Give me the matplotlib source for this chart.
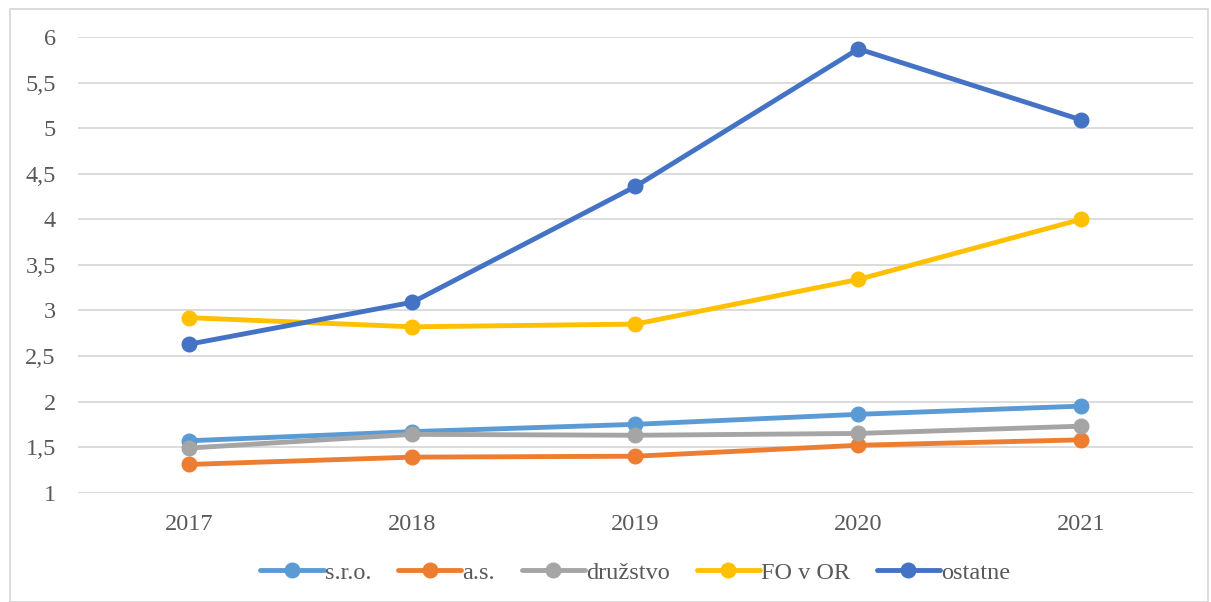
import matplotlib.pyplot as plt
from matplotlib.patches import Rectangle

years = ['2017', '2018', '2019', '2020', '2021']
sro = [1.57, 1.67, 1.75, 1.86, 1.95]
a_s = [1.31, 1.39, 1.40, 1.52, 1.58]
druzstvo = [1.49, 1.64, 1.63, 1.65, 1.73]
fo_v_or = [2.92, 2.82, 2.85, 3.34, 4.00]
ostatne = [2.63, 3.09, 4.36, 5.87, 5.09]

series = [('s.r.o.', sro, '#5B9BD5'),
          ('a.s.', a_s, '#ED7D31'),
          ('družstvo', druzstvo, '#A5A5A5'),
          ('FO v OR', fo_v_or, '#FFC000'),
          ('ostatne', ostatne, '#4472C4')]

plt.rcParams['font.family'] = ['Liberation Serif', 'DejaVu Serif']

fig = plt.figure(figsize=(12.11, 6.02), dpi=100)
ax = fig.add_axes([0.0644, 0.1816, 0.9206, 0.7569])

x = range(len(years))
for name, vals, col in series:
    ax.plot(x, vals, color=col, lw=3.5, marker='o', ms=10.5, label=name,
            solid_capstyle='round')

ax.set_xlim(-0.5, len(years) - 0.5)
ax.set_ylim(1, 6)
ax.set_yticks([1, 1.5, 2, 2.5, 3, 3.5, 4, 4.5, 5, 5.5, 6])
ax.set_yticklabels(['1', '1,5', '2', '2,5', '3', '3,5', '4', '4,5', '5', '5,5', '6'])
ax.set_xticks(list(x))
ax.set_xticklabels(years)
ax.tick_params(length=0, labelsize=17.5, labelcolor='#595959', pad=15)
ax.tick_params(axis='y', pad=16)
ax.grid(axis='y', color='#D9D9D9', lw=1.3)
ax.set_axisbelow(True)
for s in ax.spines.values():
    s.set_visible(False)

ax.legend(loc='center', bbox_to_anchor=(0.5, -0.176), ncol=5, frameon=False,
          fontsize=17.5, labelcolor='#595959', handlelength=2.6, handletextpad=0.05,
          columnspacing=1.1)

fig.patches.append(Rectangle((10 / 1211, 0), 1198 / 1211, 1 - 9 / 602,
                             transform=fig.transFigure, fill=False,
                             edgecolor='#D9D9D9', lw=1.3))

fig.savefig('out.png', dpi=100)
